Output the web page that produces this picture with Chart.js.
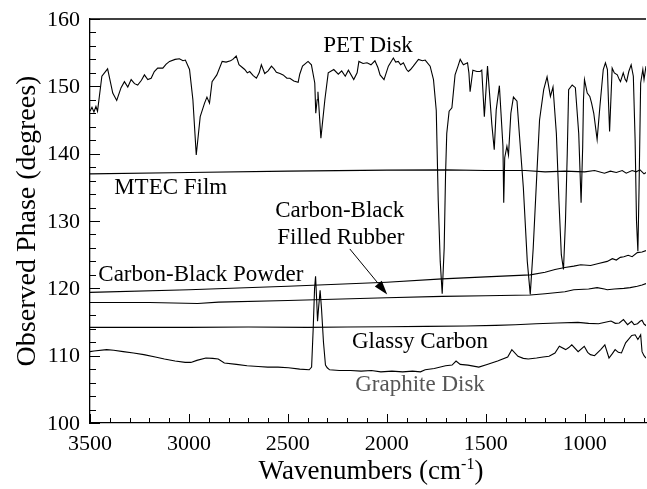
<!DOCTYPE html>
<html>
<head>
<meta charset="utf-8">
<script src="https://cdn.jsdelivr.net/npm/chart.js@4"></script>
<style>
  html, body { margin: 0; padding: 0; background: #fff; overflow: hidden; }
  #wrap { width: 647px; height: 489px; position: relative; }
  #chart { position: absolute; left: 0; top: 0; }
  #text { position: absolute; left: 0; top: 0; width: 647px; height: 489px; pointer-events: none;
          font-family: 'Liberation Serif', 'Times New Roman', serif; color: #000; }
  #text div { position: absolute; white-space: nowrap; line-height: 1; }
  .sup { font-size: 16px; line-height: 0; vertical-align: 10px; }
</style>
</head>
<body>
<div id="wrap">
  <canvas id="chart" width="647" height="489"></canvas>
  <div id="text"></div>
</div>
<script>
// --- data (wavenumber in cm-1, phase in degrees) ---
const petWave = [3500,3490,3480,3470,3462,3440,3411,3385,3365,3343,3326,3309,3292,3275,3259,3240,3225,3208,3191,3175,3158,3132,3115,3098,3070,3048,3030,3018,2997,2980,2963,2943,2921,2909,2896,2883,2859,2832,2812,2790,2778,2761,2747,2730,2718,2705,2693,2675,2659,2645,2634,2617,2600,2583,2570,2558,2540,2524,2505,2490,2470,2448,2440,2426,2398,2381,2364,2359,2352,2348,2333,2313,2296,2268,2245,2228,2210,2194,2167,2150,2141,2120,2100,2080,2060,2045,2034,2014,1992,1967,1955,1942,1930,1916,1900,1891,1880,1866,1840,1820,1806,1781,1764,1750,1740,1730,1720,1710,1703,1697,1685,1671,1655,1640,1629,1613,1592,1585,1579,1565,1545,1528,1520,1507,1491,1469,1457,1447,1431,1413,1409,1404,1393,1385,1373,1360,1342,1329,1310,1290,1275,1260,1240,1228,1222,1207,1190,1173,1160,1143,1130,1118,1107,1097,1088,1081,1063,1047,1030,1018,1010,1006,1001,987,974,965,954,937,923,906,895,885,880,874,861,850,835,825,819,805,795,788,777,765,754,745,738,731,725,717,706,700,690];
const petPhase = [146.3,146.9,146.2,147.0,146.3,151.5,152.6,149.0,147.9,149.8,150.7,149.9,151.0,150.4,150.2,150.9,151.7,151.0,151.2,152.2,152.7,152.7,153.3,153.7,154.0,154.1,153.8,153.9,152.5,148.0,139.8,145.5,147.5,148.4,147.5,150.7,151.7,153.7,153.6,153.8,154.0,154.5,153.2,152.8,152.5,152.0,152.2,151.6,151.2,152.0,153.2,151.9,152.3,153.0,152.6,152.1,151.9,151.7,151.2,151.2,150.8,150.6,151.8,153.0,153.7,153.2,150.5,146.0,148.0,149.2,142.3,148.0,152.0,152.5,151.8,152.3,151.5,152.4,151.0,152.0,153.7,153.4,153.5,153.2,153.8,152.8,151.7,151.0,153.0,154.2,153.6,153.7,153.2,153.5,152.5,152.2,152.5,153.0,154.0,153.8,153.9,153.0,151.0,146.4,133.0,124.0,119.2,126.0,137.0,143.0,146.3,146.8,151.7,153.0,154.0,153.2,153.5,152.0,149.2,152.4,152.2,152.2,152.4,145.5,153.0,144.3,140.6,146.5,150.1,141.1,132.7,139.4,141.1,139.8,146.0,148.4,147.8,142.5,135.0,124.0,119.1,126.0,138.0,145.0,146.3,149.5,151.4,148.5,149.9,143.0,133.0,125.0,122.8,130.0,140.0,149.5,150.2,149.8,143.0,132.7,141.0,148.0,151.0,149.0,148.5,147.5,146.0,142.1,147.0,152.5,153.5,152.5,148.0,143.3,152.7,152.0,151.7,151.0,150.7,152.0,151.0,150.7,152.2,153.2,151.5,142.0,130.0,125.5,135.0,150.5,152.5,151.0,153.0];

const mtecWave  = [3500,3000,2500,2000,1700,1500,1300,1200,1100,1000,950,900,870,840,810,790,760,740,720,700,690];
const mtecPhase = [137.0,137.2,137.4,137.55,137.6,137.5,137.5,137.3,137.4,137.3,137.5,137.1,137.4,137.2,137.5,137.1,137.5,137.3,137.6,137.0,137.2];

const powderWave  = [3500,3000,2500,2000,1720,1500,1275,1200,1150,1100,1055,1020,970,930,886,860,840,820,802,780,760,734,710,690];
const powderPhase = [119.4,119.8,120.3,120.9,121.4,121.7,122.0,122.4,122.8,123.1,123.3,123.5,123.4,123.7,124.0,124.4,124.2,124.6,124.7,124.9,124.7,125.3,125.4,125.6];

const rubberWave  = [3500,3200,2956,2850,2500,2000,1720,1500,1275,1200,1100,1055,980,937,900,886,850,802,770,734,710,690];
const rubberPhase = [117.9,117.9,117.75,117.95,118.2,118.6,118.8,118.9,119.0,119.2,119.5,119.8,119.9,120.1,119.9,119.8,119.9,120.0,120.1,120.3,120.5,120.7];

const glassyWave  = [3500,3200,3000,2700,2400,2200,2000,1800,1600,1450,1350,1245,1139,1034,980,930,890,867,845,825,804,783,763,750,733,720,710,700,689];
const glassyPhase = [114.2,114.2,114.2,114.25,114.2,114.25,114.3,114.35,114.4,114.5,114.6,114.75,114.85,114.95,114.8,114.75,115.0,115.15,114.8,114.85,115.35,114.6,115.1,114.6,114.75,115.1,115.25,114.7,114.45];

const graphiteWave  = [3500,3480,3416,3380,3332,3280,3228,3170,3124,3070,3019,2990,2960,2914,2880,2852,2821,2760,2706,2650,2602,2550,2497,2440,2392,2380,2372,2365,2360,2354,2350,2345,2337,2330,2320,2310,2301,2289,2240,2183,2130,2078,2030,1974,1920,1870,1830,1806,1760,1703,1670,1650,1629,1590,1535,1493,1440,1389,1368,1337,1310,1285,1243,1210,1180,1150,1128,1096,1080,1065,1033,1002,985,971,950,919,898,877,860,846,830,814,793,762,745,731,717,710,700,690];
const graphitePhase = [110.6,110.7,110.9,110.8,110.6,110.4,110.15,109.8,109.5,109.2,109.0,109.0,109.3,109.65,109.6,109.5,108.9,108.7,108.5,108.4,108.3,108.3,108.2,108.0,107.9,108.3,114.0,120.0,121.8,118.0,115.1,117.0,119.7,117.0,112.0,108.6,108.2,107.9,107.8,107.8,107.7,107.8,107.6,107.7,107.6,107.7,107.6,107.9,108.1,108.5,108.6,109.2,108.7,108.6,108.3,108.7,109.2,109.8,110.9,109.9,109.6,109.5,109.65,109.8,109.9,110.4,111.4,110.9,111.2,111.6,110.6,111.4,110.5,110.15,110.0,110.9,111.6,109.65,110.3,110.9,110.5,110.4,111.9,113.0,113.1,112.4,113.1,110.6,110.0,109.65];

const xTicks = [3500, 3000, 2500, 2000, 1500, 1000];
const yTicks = [100, 110, 120, 130, 140, 150, 160];

// curve labels, anchored at their baseline in data units
const curveLabels = [
  { text: 'PET Disk',            x: 2095, y: 155.0, align: 'center', color: '#000' },
  { text: 'MTEC Film',           x: 3378, y: 134.0, align: 'left',   color: '#000' },
  { text: 'Carbon-Black',        x: 2238, y: 130.5, align: 'center', color: '#000' },
  { text: 'Filled Rubber',       x: 2232, y: 126.6, align: 'center', color: '#000' },
  { text: 'Carbon-Black Powder', x: 3458, y: 121.0, align: 'left',   color: '#000' },
  { text: 'Glassy Carbon',       x: 1832, y: 111.1, align: 'center', color: '#000' },
  { text: 'Graphite Disk',       x: 1832, y: 104.7, align: 'center', color: '#555' },
];
const arrowFrom = [2187, 125.85];
const arrowTo   = [1998, 119.1];

// canvas text kept falling back to a sans face here, so the text goes in a DOM layer
// placed from the chart's own scales
const layer = document.getElementById('text');
const BASE = 0.8375; // baseline offset of Liberation Serif in a line-height:1 box, in em
const SHIFT = { left: '0', center: '-50%', right: '-100%' };

function put(html, left, top, size, align, extra) {
  const d = document.createElement('div');
  d.innerHTML = html;
  d.style.left = left + 'px';
  d.style.top = top + 'px';
  d.style.fontSize = size + 'px';
  d.style.transform = 'translateX(' + SHIFT[align] + ')' + (extra || '');
  layer.appendChild(d);
  return d;
}

function pts(xs, ys) { return xs.map((x, i) => ({ x, y: ys[i] })); }
function line(name, xs, ys) {
  return {
    label: name, data: pts(xs, ys),
    borderColor: '#000', borderWidth: 1.1,
    pointRadius: 0, fill: false, tension: 0,
  };
}

const decorations = {
  id: 'decorations',
  afterDraw(chart) {
    const { ctx, chartArea: a, scales: { x, y } } = chart;
    ctx.save();
    ctx.strokeStyle = '#000';
    ctx.lineWidth = 1.3;
    // top frame line
    ctx.beginPath();
    ctx.moveTo(a.left, a.top); ctx.lineTo(a.right, a.top);
    ctx.stroke();

    // inward ticks
    ctx.lineWidth = 1;
    for (let v = 100; v <= 160; v += 2) {
      const py = Math.round(y.getPixelForValue(v)) + 0.5;
      const len = v % 10 === 0 ? 10 : 6;
      ctx.beginPath(); ctx.moveTo(a.left, py); ctx.lineTo(a.left + len, py); ctx.stroke();
    }
    for (let v = 3500; v >= 700; v -= 100) {
      const px = Math.round(x.getPixelForValue(v)) + 0.5;
      const len = v % 500 === 0 ? 9 : 5;
      ctx.beginPath(); ctx.moveTo(px, a.bottom); ctx.lineTo(px, a.bottom - len); ctx.stroke();
    }

    // arrow to the filled rubber curve
    const x0 = x.getPixelForValue(arrowFrom[0]), y0 = y.getPixelForValue(arrowFrom[1]);
    const x1 = x.getPixelForValue(arrowTo[0]),   y1 = y.getPixelForValue(arrowTo[1]);
    const ang = Math.atan2(y1 - y0, x1 - x0);
    const head = 14, half = 4.5;
    const bx = x1 - head * Math.cos(ang), by = y1 - head * Math.sin(ang);
    ctx.beginPath(); ctx.moveTo(x0, y0); ctx.lineTo(bx, by); ctx.stroke();
    ctx.fillStyle = '#000';
    ctx.beginPath();
    ctx.moveTo(x1, y1);
    ctx.lineTo(bx + half * Math.sin(ang), by - half * Math.cos(ang));
    ctx.lineTo(bx - half * Math.sin(ang), by + half * Math.cos(ang));
    ctx.closePath(); ctx.fill();
    ctx.restore();

    // text layer
    layer.innerHTML = '';
    xTicks.forEach(v => put(String(v), x.getPixelForValue(v), a.bottom + 9, 22, 'center'));
    yTicks.forEach(v => put(String(v), a.left - 10, y.getPixelForValue(v) - 0.51 * 22, 22, 'right'));
    curveLabels.forEach(l => {
      const d = put(l.text, x.getPixelForValue(l.x), y.getPixelForValue(l.y) - BASE * 23, 23, l.align);
      d.style.color = l.color;
    });
    put('Wavenumbers (cm<span class="sup">-1</span>)', (a.left + a.right) / 2 + 3, 480 - BASE * 27, 27, 'center');
    const yt = put('Observed Phase (degrees)', 26, (a.top + a.bottom) / 2 - 14, 28, 'center', ' rotate(-90deg)');
    yt.style.transformOrigin = '0 50%';
    yt.style.transform = 'rotate(-90deg) translateX(-50%)';
    yt.style.transformOrigin = '0 0';
    yt.style.left = '12px';
    yt.style.top = ((a.top + a.bottom) / 2) + 'px';
  },
};

new Chart(document.getElementById('chart'), {
  type: 'line',
  data: {
    datasets: [
      line('PET Disk', petWave, petPhase),
      line('MTEC Film', mtecWave, mtecPhase),
      line('Carbon-Black Powder', powderWave, powderPhase),
      line('Carbon-Black Filled Rubber', rubberWave, rubberPhase),
      line('Glassy Carbon', glassyWave, glassyPhase),
      line('Graphite Disk', graphiteWave, graphitePhase),
    ],
  },
  options: {
    animation: false,
    responsive: false,
    layout: { padding: { left: 0, right: 1, top: 19, bottom: 0 } },
    plugins: { legend: { display: false }, tooltip: { enabled: false } },
    scales: {
      x: {
        type: 'linear', reverse: true, min: 690, max: 3500,
        afterBuildTicks: s => { s.ticks = xTicks.map(v => ({ value: v })); },
        afterFit: s => { s.height = 66; },
        ticks: { display: false },
        grid: { display: false },
        border: { display: true, color: '#000', width: 1.3 },
      },
      y: {
        min: 100, max: 160,
        afterBuildTicks: s => { s.ticks = yTicks.map(v => ({ value: v })); },
        afterFit: s => { s.width = 90; },
        ticks: { display: false },
        grid: { display: false },
        border: { display: true, color: '#000', width: 1.3 },
      },
    },
  },
  plugins: [decorations],
});
</script>
</body>
</html>
